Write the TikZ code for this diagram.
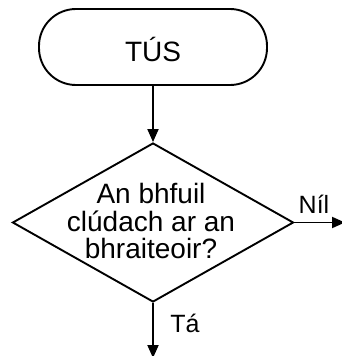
\documentclass[tikz,border=0pt]{standalone}
\usepackage{fontspec}
\setmainfont{Liberation Sans}
\usetikzlibrary{shapes.geometric,arrows.meta}
\begin{document}
\begin{tikzpicture}[x=1pt,y=-1pt,
  line width=1.9pt,
  flow/.style={-{Triangle[width=11pt,length=13pt]}},
  term/.style={draw, rectangle, rounded corners=37pt, minimum width=228pt, minimum height=76pt, inner sep=0pt},
  decide/.style={draw, diamond, minimum width=281pt, minimum height=159pt, inner sep=0pt},
  txt/.style={font=\fontsize{28}{27.5}\selectfont, align=center, inner sep=0pt},
  lbl/.style={font=\fontsize{25}{26}\selectfont, inner sep=0pt}]
\useasboundingbox (0,0) rectangle (342,356);
\node[term] (start) at (153,47) {};
\node[txt] (starttxt) at (153,49) {TÚS};
\node[decide] (q) at (153,222.5) {};
\node[txt] (qtxt) at (151,221) {An bhfuil\\clúdach ar an\\bhraiteoir?};
\coordinate (noend) at (345,222.5);
\coordinate (yesend) at (153,358);
\draw[flow] (start.south) -- (q.north);
\draw[flow] (q.east) -- (noend);
\draw[flow] (q.south) -- (yesend);
\node[lbl] (no) at (314,204) {Níl};
\node[lbl] (yes) at (185,323) {Tá};
\end{tikzpicture}
\end{document}
